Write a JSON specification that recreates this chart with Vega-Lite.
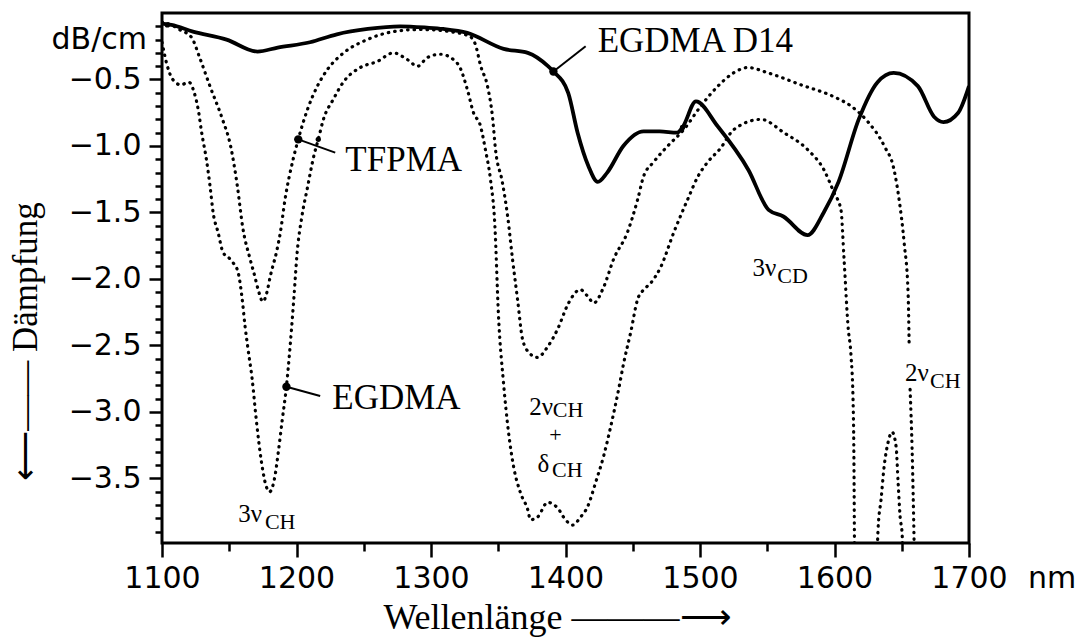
{
  "$schema": "https://vega.github.io/schema/vega-lite/v6.json",
  "width": 807,
  "height": 530,
  "autosize": {"type": "none"},
  "padding": {"left": 162, "top": 13, "right": 107, "bottom": 94},
  "background": "white",
  "config": {
    "view": {"stroke": "black", "strokeWidth": 3},
    "font": "Liberation Serif"
  },
  "resolve": {"axis": {"x": "independent", "y": "independent"}},
  "datasets": {
    "d14": [
      {"nm": 1100, "val": -0.08}, {"nm": 1107, "val": -0.09}, {"nm": 1123, "val": -0.14}, {"nm": 1148, "val": -0.2},
      {"nm": 1171, "val": -0.29}, {"nm": 1186, "val": -0.26}, {"nm": 1210, "val": -0.22}, {"nm": 1230, "val": -0.16},
      {"nm": 1253, "val": -0.12}, {"nm": 1277, "val": -0.1}, {"nm": 1297, "val": -0.11}, {"nm": 1309, "val": -0.12},
      {"nm": 1327, "val": -0.15}, {"nm": 1354, "val": -0.27}, {"nm": 1372, "val": -0.3}, {"nm": 1387, "val": -0.4},
      {"nm": 1391, "val": -0.44}, {"nm": 1402, "val": -0.6}, {"nm": 1409, "val": -0.9}, {"nm": 1417, "val": -1.15},
      {"nm": 1424, "val": -1.27}, {"nm": 1431, "val": -1.2}, {"nm": 1443, "val": -1.0}, {"nm": 1458, "val": -0.89},
      {"nm": 1470, "val": -0.89}, {"nm": 1483, "val": -0.9}, {"nm": 1487, "val": -0.86}, {"nm": 1497, "val": -0.665},
      {"nm": 1513, "val": -0.85}, {"nm": 1536, "val": -1.18}, {"nm": 1551, "val": -1.48}, {"nm": 1562, "val": -1.53},
      {"nm": 1580, "val": -1.67}, {"nm": 1592, "val": -1.5}, {"nm": 1603, "val": -1.27}, {"nm": 1618, "val": -0.8},
      {"nm": 1632, "val": -0.52}, {"nm": 1644, "val": -0.45}, {"nm": 1662, "val": -0.55}, {"nm": 1674, "val": -0.78},
      {"nm": 1681, "val": -0.82}, {"nm": 1692, "val": -0.75}, {"nm": 1700, "val": -0.55}
    ],
    "dotted": [
      {"series": "TFPMA", "part": 1, "nm": 1100, "val": -0.07},
      {"series": "TFPMA", "part": 1, "nm": 1107, "val": -0.09},
      {"series": "TFPMA", "part": 1, "nm": 1113, "val": -0.124},
      {"series": "TFPMA", "part": 1, "nm": 1122, "val": -0.184},
      {"series": "TFPMA", "part": 1, "nm": 1128, "val": -0.335},
      {"series": "TFPMA", "part": 1, "nm": 1136, "val": -0.56},
      {"series": "TFPMA", "part": 1, "nm": 1145, "val": -0.8},
      {"series": "TFPMA", "part": 1, "nm": 1151, "val": -1.0},
      {"series": "TFPMA", "part": 1, "nm": 1156, "val": -1.3},
      {"series": "TFPMA", "part": 1, "nm": 1160, "val": -1.61},
      {"series": "TFPMA", "part": 1, "nm": 1165.5, "val": -1.85},
      {"series": "TFPMA", "part": 1, "nm": 1169, "val": -1.98},
      {"series": "TFPMA", "part": 1, "nm": 1171.5, "val": -2.08},
      {"series": "TFPMA", "part": 1, "nm": 1175, "val": -2.17},
      {"series": "TFPMA", "part": 1, "nm": 1178, "val": -2.1},
      {"series": "TFPMA", "part": 1, "nm": 1180.5, "val": -1.98},
      {"series": "TFPMA", "part": 1, "nm": 1185.5, "val": -1.78},
      {"series": "TFPMA", "part": 1, "nm": 1188, "val": -1.65},
      {"series": "TFPMA", "part": 1, "nm": 1191.5, "val": -1.4},
      {"series": "TFPMA", "part": 1, "nm": 1197.5, "val": -1.1},
      {"series": "TFPMA", "part": 1, "nm": 1201.3, "val": -0.95},
      {"series": "TFPMA", "part": 1, "nm": 1208, "val": -0.73},
      {"series": "TFPMA", "part": 1, "nm": 1215.5, "val": -0.55},
      {"series": "TFPMA", "part": 1, "nm": 1223, "val": -0.425},
      {"series": "TFPMA", "part": 1, "nm": 1235, "val": -0.3},
      {"series": "TFPMA", "part": 1, "nm": 1252.6, "val": -0.2},
      {"series": "TFPMA", "part": 1, "nm": 1272, "val": -0.14},
      {"series": "TFPMA", "part": 1, "nm": 1292, "val": -0.124},
      {"series": "TFPMA", "part": 1, "nm": 1314, "val": -0.14},
      {"series": "TFPMA", "part": 1, "nm": 1329, "val": -0.177},
      {"series": "TFPMA", "part": 1, "nm": 1333, "val": -0.237},
      {"series": "TFPMA", "part": 1, "nm": 1337, "val": -0.4},
      {"series": "TFPMA", "part": 1, "nm": 1342, "val": -0.55},
      {"series": "TFPMA", "part": 1, "nm": 1345.7, "val": -0.78},
      {"series": "TFPMA", "part": 1, "nm": 1348, "val": -1.03},
      {"series": "TFPMA", "part": 1, "nm": 1353, "val": -1.27},
      {"series": "TFPMA", "part": 1, "nm": 1357, "val": -1.53},
      {"series": "TFPMA", "part": 1, "nm": 1360.6, "val": -1.85},
      {"series": "TFPMA", "part": 1, "nm": 1364.3, "val": -2.15},
      {"series": "TFPMA", "part": 1, "nm": 1368, "val": -2.45},
      {"series": "TFPMA", "part": 1, "nm": 1372.5, "val": -2.55},
      {"series": "TFPMA", "part": 1, "nm": 1379, "val": -2.59},
      {"series": "TFPMA", "part": 1, "nm": 1386.7, "val": -2.51},
      {"series": "TFPMA", "part": 1, "nm": 1394, "val": -2.38},
      {"series": "TFPMA", "part": 1, "nm": 1402.3, "val": -2.18},
      {"series": "TFPMA", "part": 1, "nm": 1411, "val": -2.08},
      {"series": "TFPMA", "part": 1, "nm": 1416.5, "val": -2.13},
      {"series": "TFPMA", "part": 1, "nm": 1421, "val": -2.18},
      {"series": "TFPMA", "part": 1, "nm": 1428.4, "val": -2.06},
      {"series": "TFPMA", "part": 1, "nm": 1435.8, "val": -1.85},
      {"series": "TFPMA", "part": 1, "nm": 1446, "val": -1.65},
      {"series": "TFPMA", "part": 1, "nm": 1453.7, "val": -1.4},
      {"series": "TFPMA", "part": 1, "nm": 1458, "val": -1.23},
      {"series": "TFPMA", "part": 1, "nm": 1465.6, "val": -1.12},
      {"series": "TFPMA", "part": 1, "nm": 1476, "val": -1.0},
      {"series": "TFPMA", "part": 1, "nm": 1488, "val": -0.876},
      {"series": "TFPMA", "part": 1, "nm": 1500.6, "val": -0.7},
      {"series": "TFPMA", "part": 1, "nm": 1513.3, "val": -0.55},
      {"series": "TFPMA", "part": 1, "nm": 1525, "val": -0.45},
      {"series": "TFPMA", "part": 1, "nm": 1535.6, "val": -0.41},
      {"series": "TFPMA", "part": 1, "nm": 1550.5, "val": -0.45},
      {"series": "TFPMA", "part": 1, "nm": 1575, "val": -0.54},
      {"series": "TFPMA", "part": 1, "nm": 1599.6, "val": -0.63},
      {"series": "TFPMA", "part": 1, "nm": 1612.3, "val": -0.7},
      {"series": "TFPMA", "part": 1, "nm": 1625, "val": -0.82},
      {"series": "TFPMA", "part": 1, "nm": 1637, "val": -1.0},
      {"series": "TFPMA", "part": 1, "nm": 1644.3, "val": -1.18},
      {"series": "TFPMA", "part": 1, "nm": 1648, "val": -1.4},
      {"series": "TFPMA", "part": 1, "nm": 1651.8, "val": -1.73},
      {"series": "TFPMA", "part": 1, "nm": 1654.7, "val": -2.1},
      {"series": "TFPMA", "part": 1, "nm": 1655.5, "val": -2.49},
      {"series": "TFPMA", "part": 2, "nm": 1656.2, "val": -2.83},
      {"series": "TFPMA", "part": 2, "nm": 1657.7, "val": -3.28},
      {"series": "TFPMA", "part": 2, "nm": 1659.2, "val": -3.98},
      {"series": "TFPMA", "part": 2, "nm": 1659.8, "val": -4.3},
      {"series": "EGDMA", "part": 1, "nm": 1100, "val": -0.22},
      {"series": "EGDMA", "part": 1, "nm": 1104, "val": -0.4},
      {"series": "EGDMA", "part": 1, "nm": 1108, "val": -0.5},
      {"series": "EGDMA", "part": 1, "nm": 1114, "val": -0.54},
      {"series": "EGDMA", "part": 1, "nm": 1120, "val": -0.52},
      {"series": "EGDMA", "part": 1, "nm": 1124, "val": -0.6},
      {"series": "EGDMA", "part": 1, "nm": 1127, "val": -0.73},
      {"series": "EGDMA", "part": 1, "nm": 1129.5, "val": -0.9},
      {"series": "EGDMA", "part": 1, "nm": 1133, "val": -1.1},
      {"series": "EGDMA", "part": 1, "nm": 1135.7, "val": -1.3},
      {"series": "EGDMA", "part": 1, "nm": 1138, "val": -1.5},
      {"series": "EGDMA", "part": 1, "nm": 1141.7, "val": -1.65},
      {"series": "EGDMA", "part": 1, "nm": 1145.4, "val": -1.8},
      {"series": "EGDMA", "part": 1, "nm": 1150.6, "val": -1.85},
      {"series": "EGDMA", "part": 1, "nm": 1153, "val": -1.88},
      {"series": "EGDMA", "part": 1, "nm": 1156.6, "val": -1.95},
      {"series": "EGDMA", "part": 1, "nm": 1159.6, "val": -2.15},
      {"series": "EGDMA", "part": 1, "nm": 1161.8, "val": -2.36},
      {"series": "EGDMA", "part": 1, "nm": 1164, "val": -2.53},
      {"series": "EGDMA", "part": 1, "nm": 1167, "val": -2.75},
      {"series": "EGDMA", "part": 1, "nm": 1170, "val": -3.05},
      {"series": "EGDMA", "part": 1, "nm": 1174, "val": -3.38},
      {"series": "EGDMA", "part": 1, "nm": 1177.5, "val": -3.56},
      {"series": "EGDMA", "part": 1, "nm": 1180, "val": -3.6},
      {"series": "EGDMA", "part": 1, "nm": 1184, "val": -3.48},
      {"series": "EGDMA", "part": 1, "nm": 1186.5, "val": -3.3},
      {"series": "EGDMA", "part": 1, "nm": 1189.4, "val": -3.06},
      {"series": "EGDMA", "part": 1, "nm": 1192.5, "val": -2.81},
      {"series": "EGDMA", "part": 1, "nm": 1195.3, "val": -2.5},
      {"series": "EGDMA", "part": 1, "nm": 1198, "val": -2.15},
      {"series": "EGDMA", "part": 1, "nm": 1200.5, "val": -1.8},
      {"series": "EGDMA", "part": 1, "nm": 1204, "val": -1.53},
      {"series": "EGDMA", "part": 1, "nm": 1208, "val": -1.32},
      {"series": "EGDMA", "part": 1, "nm": 1213, "val": -1.07},
      {"series": "EGDMA", "part": 1, "nm": 1216.2, "val": -0.95},
      {"series": "EGDMA", "part": 1, "nm": 1220, "val": -0.8},
      {"series": "EGDMA", "part": 1, "nm": 1227.3, "val": -0.65},
      {"series": "EGDMA", "part": 1, "nm": 1234.8, "val": -0.52},
      {"series": "EGDMA", "part": 1, "nm": 1247.4, "val": -0.41},
      {"series": "EGDMA", "part": 1, "nm": 1260, "val": -0.365},
      {"series": "EGDMA", "part": 1, "nm": 1272, "val": -0.3},
      {"series": "EGDMA", "part": 1, "nm": 1282.4, "val": -0.35},
      {"series": "EGDMA", "part": 1, "nm": 1290, "val": -0.4},
      {"series": "EGDMA", "part": 1, "nm": 1297.3, "val": -0.335},
      {"series": "EGDMA", "part": 1, "nm": 1307, "val": -0.31},
      {"series": "EGDMA", "part": 1, "nm": 1316.7, "val": -0.35},
      {"series": "EGDMA", "part": 1, "nm": 1322, "val": -0.42},
      {"series": "EGDMA", "part": 1, "nm": 1327, "val": -0.575},
      {"series": "EGDMA", "part": 1, "nm": 1331.6, "val": -0.75},
      {"series": "EGDMA", "part": 1, "nm": 1336.8, "val": -0.85},
      {"series": "EGDMA", "part": 1, "nm": 1340.5, "val": -1.03},
      {"series": "EGDMA", "part": 1, "nm": 1344.2, "val": -1.25},
      {"series": "EGDMA", "part": 1, "nm": 1347.5, "val": -1.6},
      {"series": "EGDMA", "part": 1, "nm": 1350.2, "val": -2.28},
      {"series": "EGDMA", "part": 1, "nm": 1353.9, "val": -2.78},
      {"series": "EGDMA", "part": 1, "nm": 1357.6, "val": -3.15},
      {"series": "EGDMA", "part": 1, "nm": 1361.4, "val": -3.41},
      {"series": "EGDMA", "part": 1, "nm": 1366.6, "val": -3.61},
      {"series": "EGDMA", "part": 1, "nm": 1371.8, "val": -3.73},
      {"series": "EGDMA", "part": 1, "nm": 1374, "val": -3.81},
      {"series": "EGDMA", "part": 1, "nm": 1379.2, "val": -3.79},
      {"series": "EGDMA", "part": 1, "nm": 1386.7, "val": -3.68},
      {"series": "EGDMA", "part": 1, "nm": 1394, "val": -3.72},
      {"series": "EGDMA", "part": 1, "nm": 1400, "val": -3.81},
      {"series": "EGDMA", "part": 1, "nm": 1405.3, "val": -3.85},
      {"series": "EGDMA", "part": 1, "nm": 1411.2, "val": -3.79},
      {"series": "EGDMA", "part": 1, "nm": 1416.5, "val": -3.71},
      {"series": "EGDMA", "part": 1, "nm": 1422.4, "val": -3.53},
      {"series": "EGDMA", "part": 1, "nm": 1428.4, "val": -3.33},
      {"series": "EGDMA", "part": 1, "nm": 1433.6, "val": -3.11},
      {"series": "EGDMA", "part": 1, "nm": 1439.5, "val": -2.83},
      {"series": "EGDMA", "part": 1, "nm": 1443.3, "val": -2.63},
      {"series": "EGDMA", "part": 1, "nm": 1448.5, "val": -2.4},
      {"series": "EGDMA", "part": 1, "nm": 1453.7, "val": -2.15},
      {"series": "EGDMA", "part": 1, "nm": 1458.2, "val": -2.08},
      {"series": "EGDMA", "part": 1, "nm": 1463.4, "val": -2.03},
      {"series": "EGDMA", "part": 1, "nm": 1470.8, "val": -1.91},
      {"series": "EGDMA", "part": 1, "nm": 1480.5, "val": -1.65},
      {"series": "EGDMA", "part": 1, "nm": 1490.9, "val": -1.4},
      {"series": "EGDMA", "part": 1, "nm": 1498.4, "val": -1.23},
      {"series": "EGDMA", "part": 1, "nm": 1505.8, "val": -1.12},
      {"series": "EGDMA", "part": 1, "nm": 1515, "val": -1.02},
      {"series": "EGDMA", "part": 1, "nm": 1525.2, "val": -0.876},
      {"series": "EGDMA", "part": 1, "nm": 1545.3, "val": -0.8},
      {"series": "EGDMA", "part": 1, "nm": 1562.4, "val": -0.9},
      {"series": "EGDMA", "part": 1, "nm": 1580.3, "val": -1.03},
      {"series": "EGDMA", "part": 1, "nm": 1592.2, "val": -1.18},
      {"series": "EGDMA", "part": 1, "nm": 1599.6, "val": -1.35},
      {"series": "EGDMA", "part": 1, "nm": 1604.8, "val": -1.48},
      {"series": "EGDMA", "part": 1, "nm": 1607.1, "val": -1.85},
      {"series": "EGDMA", "part": 1, "nm": 1610.1, "val": -2.36},
      {"series": "EGDMA", "part": 1, "nm": 1612.3, "val": -2.58},
      {"series": "EGDMA", "part": 1, "nm": 1613.8, "val": -2.91},
      {"series": "EGDMA", "part": 1, "nm": 1614.5, "val": -3.43},
      {"series": "EGDMA", "part": 1, "nm": 1614.8, "val": -3.92},
      {"series": "EGDMA", "part": 1, "nm": 1615.5, "val": -4.4},
      {"series": "EGDMA", "part": 2, "nm": 1631, "val": -4.3},
      {"series": "EGDMA", "part": 2, "nm": 1632.4, "val": -3.88},
      {"series": "EGDMA", "part": 2, "nm": 1634.6, "val": -3.66},
      {"series": "EGDMA", "part": 2, "nm": 1636.9, "val": -3.41},
      {"series": "EGDMA", "part": 2, "nm": 1639.8, "val": -3.23},
      {"series": "EGDMA", "part": 2, "nm": 1642.8, "val": -3.15},
      {"series": "EGDMA", "part": 2, "nm": 1645.8, "val": -3.26},
      {"series": "EGDMA", "part": 2, "nm": 1647.3, "val": -3.53},
      {"series": "EGDMA", "part": 2, "nm": 1648.8, "val": -3.79},
      {"series": "EGDMA", "part": 2, "nm": 1650.3, "val": -3.92},
      {"series": "EGDMA", "part": 2, "nm": 1651, "val": -4.3}
    ],
    "leaders": [
      {"nm": 1391, "val": -0.44, "nm2": 1415, "val2": -0.25},
      {"nm": 1201.3, "val": -0.95, "nm2": 1228.8, "val2": -1.05},
      {"nm": 1192.5, "val": -2.81, "nm2": 1217.6, "val2": -2.88}
    ],
    "markers": [
      {"nm": 1391, "val": -0.44},
      {"nm": 1201.3, "val": -0.95},
      {"nm": 1192.5, "val": -2.81}
    ],
    "joints": [
      {"nm": 1104, "val": -0.09},
      {"nm": 1216.2, "val": -0.95},
      {"nm": 1487, "val": -0.86}
    ],
    "names": [
      {"label": "EGDMA D14", "nm": 1423.9, "val": -0.29},
      {"label": "TFPMA", "nm": 1236.3, "val": -1.19},
      {"label": "EGDMA", "nm": 1226.6, "val": -2.98}
    ],
    "bands": [
      {"label": "3ν", "nm": 1156.6, "val": -3.83},
      {"label": "2ν", "nm": 1373.0, "val": -3.02},
      {"label": "δ", "nm": 1379.2, "val": -3.45},
      {"label": "3ν", "nm": 1539, "val": -1.98},
      {"label": "2ν", "nm": 1652.5, "val": -2.77}
    ],
    "subs": [
      {"label": "CH", "nm": 1176.5, "val": -3.88},
      {"label": "CH", "nm": 1390.5, "val": -3.04},
      {"label": "+", "nm": 1388.0, "val": -3.225},
      {"label": "CH", "nm": 1390.0, "val": -3.49},
      {"label": "CD", "nm": 1557.5, "val": -2.03},
      {"label": "CH", "nm": 1671, "val": -2.82}
    ]
  },
  "layer": [
    {
      "data": {"name": "dotted"},
      "mark": {"type": "line", "interpolate": "monotone", "clip": true, "color": "black", "strokeWidth": 3.2, "strokeDash": [0.5, 6], "strokeCap": "round"},
      "encoding": {
        "x": {
          "field": "nm", "type": "quantitative",
          "scale": {"domain": [1100, 1700], "nice": false, "zero": false},
          "axis": {
            "orient": "bottom",
            "values": [1100, 1200, 1300, 1400, 1500, 1600, 1700],
            "format": "d",
            "labelFont": "DejaVu Sans", "labelFontSize": 30, "labelColor": "black",
            "labelPadding": 6, "labelFlush": false, "labelOverlap": false,
            "tickColor": "black", "tickWidth": 2.5, "tickSize": 14,
            "domain": false, "grid": false,
            "title": "Wellenlänge ———⟶",
            "titleFont": "Liberation Serif", "titleFontSize": 36, "titleFontWeight": "normal", "titleColor": "black",
            "titleX": 395, "titleY": 85, "titleAlign": "center", "titleBaseline": "alphabetic"
          }
        },
        "y": {
          "field": "val", "type": "quantitative",
          "scale": {"domain": [-3.985, 0], "nice": false, "zero": false},
          "axis": {
            "orient": "left",
            "values": [-3.5, -3.0, -2.5, -2.0, -1.5, -1.0, -0.5],
            "format": ".1f",
            "labelFont": "DejaVu Sans", "labelFontSize": 30, "labelColor": "black",
            "labelPadding": 8, "labelFlush": false, "labelOverlap": false,
            "tickColor": "black", "tickWidth": 2.5, "tickSize": 13,
            "domain": false, "grid": false,
            "title": "⟵—— Dämpfung",
            "titleFont": "Liberation Serif", "titleFontSize": 35, "titleFontWeight": "normal", "titleColor": "black",
            "titleAngle": -90, "titleX": -126, "titleY": 328, "titleAlign": "center", "titleBaseline": "alphabetic"
          }
        },
        "detail": [{"field": "series"}, {"field": "part"}]
      }
    },
    {
      "data": {"name": "d14"},
      "mark": {"type": "line", "interpolate": "monotone", "clip": true, "color": "black", "strokeWidth": 3.8},
      "encoding": {
        "x": {
          "field": "nm", "type": "quantitative",
          "axis": {
            "orient": "bottom",
            "values": [1150, 1250, 1350, 1450, 1550, 1650],
            "labels": false, "domain": false, "grid": false, "title": null,
            "tickColor": "black", "tickWidth": 2.5, "tickSize": 8
          }
        },
        "y": {
          "field": "val", "type": "quantitative",
          "axis": {
            "orient": "left",
            "values": [-3.9, -3.8, -3.7, -3.6, -3.4, -3.3, -3.2, -3.1, -2.9, -2.8, -2.7, -2.6, -2.4, -2.3, -2.2, -2.1, -1.9, -1.8, -1.7, -1.6, -1.4, -1.3, -1.2, -1.1, -0.9, -0.8, -0.7, -0.6, -0.4, -0.3, -0.2, -0.1],
            "labels": false, "domain": false, "grid": false, "title": null,
            "tickColor": "black", "tickWidth": 2.5, "tickSize": 7
          }
        }
      }
    },
    {
      "data": {"name": "leaders"},
      "mark": {"type": "rule", "color": "black", "strokeWidth": 2},
      "encoding": {
        "x": {"field": "nm", "type": "quantitative", "axis": null},
        "y": {"field": "val", "type": "quantitative", "axis": null},
        "x2": {"field": "nm2"},
        "y2": {"field": "val2"}
      }
    },
    {
      "data": {"name": "markers"},
      "mark": {"type": "circle", "color": "black", "opacity": 1, "size": 70},
      "encoding": {
        "x": {"field": "nm", "type": "quantitative", "axis": null},
        "y": {"field": "val", "type": "quantitative", "axis": null}
      }
    },
    {
      "data": {"name": "joints"},
      "mark": {"type": "circle", "color": "black", "opacity": 1, "size": 28},
      "encoding": {
        "x": {"field": "nm", "type": "quantitative", "axis": null},
        "y": {"field": "val", "type": "quantitative", "axis": null}
      }
    },
    {
      "data": {"name": "names"},
      "mark": {"type": "text", "font": "Liberation Serif", "fontSize": 35, "color": "black", "align": "left", "baseline": "alphabetic"},
      "encoding": {
        "x": {"field": "nm", "type": "quantitative", "axis": null},
        "y": {"field": "val", "type": "quantitative", "axis": null},
        "text": {"field": "label"}
      }
    },
    {
      "data": {"name": "bands"},
      "mark": {"type": "text", "font": "Liberation Serif", "fontSize": 25, "color": "black", "align": "left", "baseline": "alphabetic"},
      "encoding": {
        "x": {"field": "nm", "type": "quantitative", "axis": null},
        "y": {"field": "val", "type": "quantitative", "axis": null},
        "text": {"field": "label"}
      }
    },
    {
      "data": {"name": "subs"},
      "mark": {"type": "text", "font": "Liberation Serif", "fontSize": 22, "color": "black", "align": "left", "baseline": "alphabetic"},
      "encoding": {
        "x": {"field": "nm", "type": "quantitative", "axis": null},
        "y": {"field": "val", "type": "quantitative", "axis": null},
        "text": {"field": "label"}
      }
    },
    {
      "data": {"values": [{"unit": "dB/cm"}]},
      "mark": {"type": "text", "font": "DejaVu Sans", "fontSize": 30, "color": "black", "align": "right", "baseline": "middle", "dx": -15},
      "encoding": {
        "x": {"datum": 1100, "type": "quantitative", "axis": null},
        "y": {"datum": -0.2, "type": "quantitative", "axis": null},
        "text": {"field": "unit"}
      }
    },
    {
      "data": {"values": [{"unit": "nm"}]},
      "mark": {"type": "text", "font": "DejaVu Sans", "fontSize": 30, "color": "black", "align": "center", "baseline": "alphabetic", "dx": 83, "dy": 45},
      "encoding": {
        "x": {"datum": 1700, "type": "quantitative", "axis": null},
        "y": {"datum": -3.985, "type": "quantitative", "axis": null},
        "text": {"field": "unit"}
      }
    }
  ]
}
